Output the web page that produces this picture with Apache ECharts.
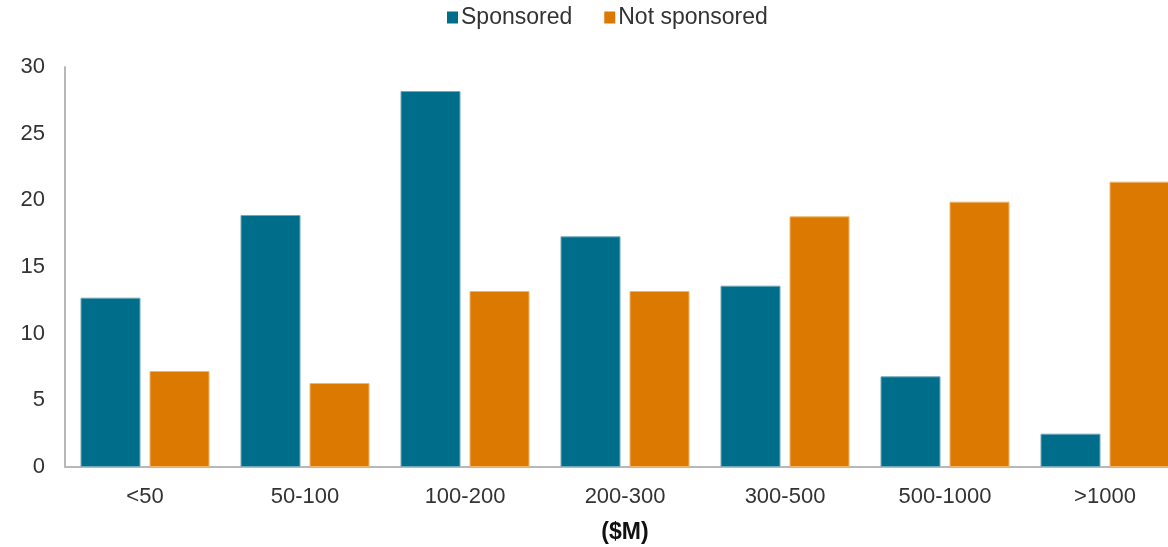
<!DOCTYPE html>
<html>
<head>
<meta charset="utf-8">
<script src="https://cdn.jsdelivr.net/npm/echarts@6/dist/echarts.min.js"></script>
<style>
  html, body { margin: 0; padding: 0; background: #ffffff; }
  #chart { width: 1168px; height: 547px; }
</style>
</head>
<body>
<div id="chart"></div>
<script>
// Deal size buckets ($M)
const categories = ['<50', '50-100', '100-200', '200-300', '300-500', '500-1000', '>1000'];
const sponsored = [12.7, 18.9, 28.2, 17.3, 13.6, 6.8, 2.5];
const notSponsored = [7.2, 6.3, 13.2, 13.2, 18.8, 19.9, 21.4];
const yTicks = [0, 5, 10, 15, 20, 25, 30];

const TEAL = '#006E8A';
const ORANGE = '#DB7900';
const FONT = '"Liberation Sans", Arial, sans-serif';

const chart = echarts.init(document.getElementById('chart'), null, { renderer: 'canvas' });

chart.setOption({
  animation: false,
  textStyle: { fontFamily: FONT },
  legend: {
    top: 6,
    left: 447,
    padding: 0,
    itemWidth: 11,
    itemHeight: 12,
    itemGap: 32,
    icon: 'rect',
    itemStyle: { borderWidth: 0 },
    textStyle: { fontSize: 23, color: '#333', fontFamily: FONT, padding: [0, 0, 0, -2] },
    data: ['Sponsored', 'Not sponsored']
  },
  grid: {
    left: 65,
    top: 67,
    width: 1120,
    height: 400,
    containLabel: false,
    outerBoundsMode: 'none'
  },
  xAxis: {
    type: 'category',
    data: categories,
    name: '($M)',
    nameLocation: 'middle',
    nameGap: 54,
    nameTextStyle: { fontSize: 23, fontWeight: 'bold', color: '#111', fontFamily: FONT },
    axisLine: { lineStyle: { color: '#b8b8b8', width: 2 } },
    axisTick: { show: false },
    axisLabel: { fontSize: 22, color: '#333', margin: 19, fontFamily: FONT }
  },
  yAxis: {
    type: 'value',
    min: 0,
    max: 30,
    interval: 5,
    axisLine: { show: true, lineStyle: { color: '#b8b8b8', width: 2 } },
    axisTick: { show: false },
    splitLine: { show: false },
    axisLabel: {
      fontSize: 22,
      color: '#333',
      margin: 20,
      fontFamily: FONT,
      formatter: v => yTicks.includes(v) ? String(v) : ''
    }
  },
  series: [
    {
      name: 'Sponsored',
      type: 'bar',
      data: sponsored,
      barWidth: 60,
      barGap: '15%',
      itemStyle: { color: TEAL, borderColor: '#6fa9bb', borderWidth: 1 }
    },
    {
      name: 'Not sponsored',
      type: 'bar',
      data: notSponsored,
      barWidth: 60,
      barGap: '15%',
      itemStyle: { color: ORANGE, borderColor: '#f0b56a', borderWidth: 1 }
    }
  ]
});
</script>
</body>
</html>
